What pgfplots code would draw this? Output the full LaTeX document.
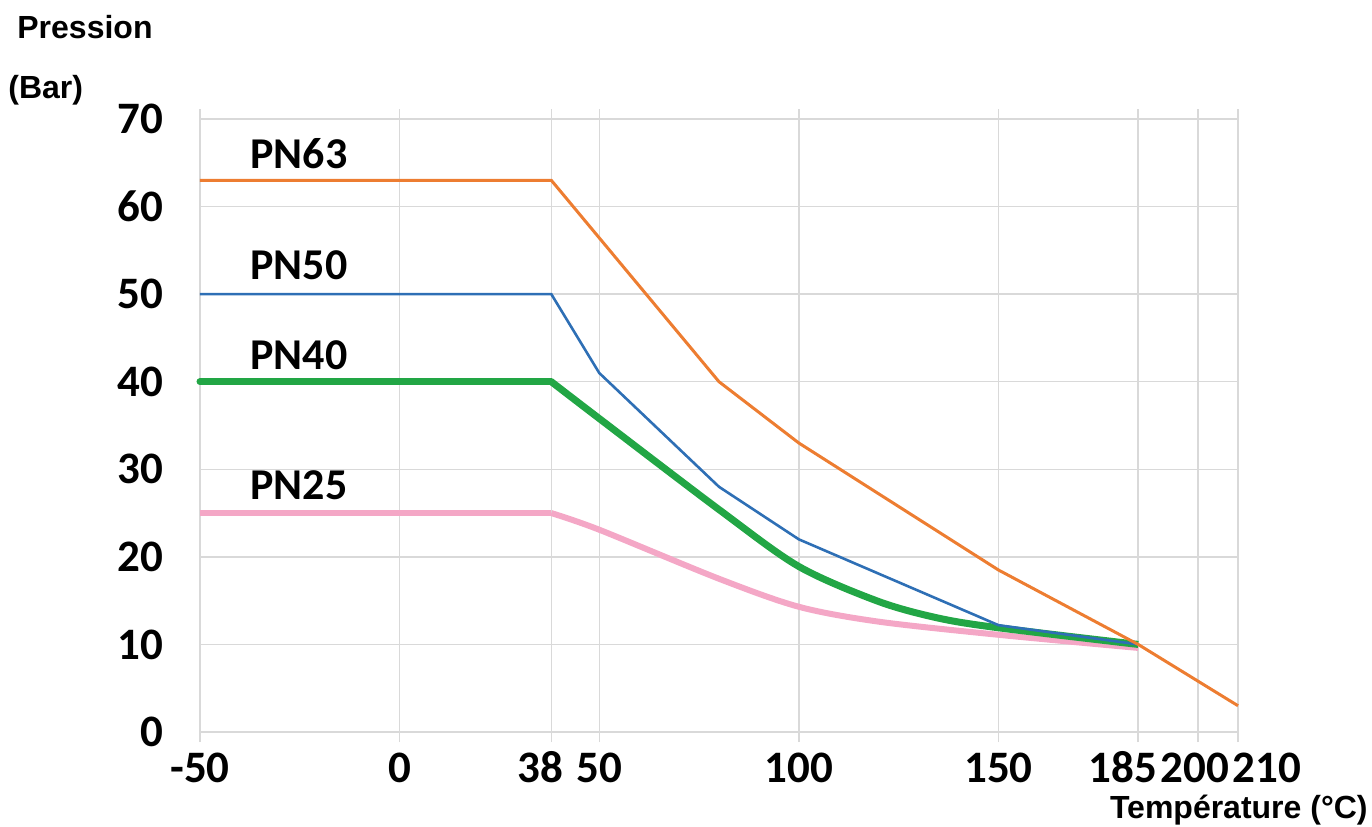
\documentclass[border=0pt]{standalone}
\usepackage{fontspec}
\setmainfont{Liberation Sans}
\newfontfamily\carlito{Carlito}
\usepackage{pgfplots}
\pgfplotsset{compat=1.18}

\definecolor{gridgray}{HTML}{D9D9D9}
\definecolor{pnorange}{HTML}{ED7D31}
\definecolor{pnblue}{HTML}{2E6FB5}
\definecolor{pngreen}{HTML}{22A645}
\definecolor{pnpink}{HTML}{F4A7C6}

% tick label moved sideways by #1 (positive = right)
\newcommand{\movedlabel}[2]{\makebox[0pt][c]{\hspace*{#1}\hspace*{#1}#2}}

\begin{document}
\begin{tikzpicture}
  \begin{axis}[
    scale only axis,
    width=519pt, height=306.5pt,
    xmin=-50, xmax=210, ymin=0, ymax=70,
    xtick={-50,0,38,50,100,150,185,200,210},
    xticklabels={-50,0,\movedlabel{-5.5pt}{38},50,100,150,\movedlabel{-7.5pt}{185},\movedlabel{-1.5pt}{200},\movedlabel{14.5pt}{210}},
    ytick={0,10,20,30,40,50,60,70},
    yticklabels={0,10,20,30,40,50,60,70},
    grid=major,
    grid style={draw=gridgray, line width=0.7pt},
    axis line style={draw=gridgray, line width=0.7pt},
    tick align=outside,
    major tick length=5pt,
    xtick style={draw=gridgray, line width=0.7pt},
    ytick style={draw=none},
    ticklabel style={font=\carlito\bfseries\fontsize{22.5}{22.5}\selectfont, inner sep=0pt},
    xticklabel style={anchor=base, yshift=-20pt},
    yticklabel style={anchor=east, xshift=-13pt},
    clip=false,
  ]
    % PN25
    \addplot[pnpink, line width=3pt] coordinates {(-50,25) (38,25)};
    \addplot[pnpink, line width=3pt, smooth] coordinates {
      (38,25) (50,23.1) (80,17.5) (100,14.3) (120,12.6) (150,11.1) (185,9.6)};
    % PN40
    \addplot[pngreen, line width=3.5pt, line cap=round] coordinates {(-50,40) (38,40)};
    \addplot[pngreen, line width=3.5pt, smooth] coordinates {
      (38,40) (50,35.8) (80,25.4) (100,18.9) (120,14.9) (135,13) (150,11.9) (185,10)};
    % PN50
    \addplot[pnblue, line width=1.3pt] coordinates {
      (-50,50) (38,50) (50,41) (80,28) (100,22) (150,12.2) (185,10)};
    % PN63
    \addplot[pnorange, line width=1.5pt] coordinates {
      (-50,63) (38,63) (80,40) (100,33) (150,18.5) (185,10) (210,3)};

    \node[anchor=west, font=\carlito\bfseries\fontsize{22}{22}\selectfont, inner sep=0pt] at (axis cs:-37.5,66) {PN63};
    \node[anchor=west, font=\carlito\bfseries\fontsize{22}{22}\selectfont, inner sep=0pt] at (axis cs:-37.5,53.3) {PN50};
    \node[anchor=west, font=\carlito\bfseries\fontsize{22}{22}\selectfont, inner sep=0pt] at (axis cs:-37.5,43.05) {PN40};
    \node[anchor=west, font=\carlito\bfseries\fontsize{22}{22}\selectfont, inner sep=0pt] at (axis cs:-37.5,28.2) {PN25};

    \coordinate (O) at (rel axis cs:0,0);
  \end{axis}
  \node[anchor=west, font=\bfseries\fontsize{16}{16}\selectfont, inner sep=0pt] at ([shift={(-91.5pt,352.5pt)}]O) {Pression};
  \node[anchor=west, font=\bfseries\fontsize{16}{16}\selectfont, inner sep=0pt] at ([shift={(-96pt,321pt)}]O) {(Bar)};
  \node[anchor=east, font=\bfseries\fontsize{16}{16}\selectfont, inner sep=0pt] at ([shift={(584pt,-39pt)}]O) {Température (°C)};
  \pgfresetboundingbox
  \path ([shift={(-100pt,-47pt)}]O) rectangle ++(686pt,413pt);
\end{tikzpicture}
\end{document}
